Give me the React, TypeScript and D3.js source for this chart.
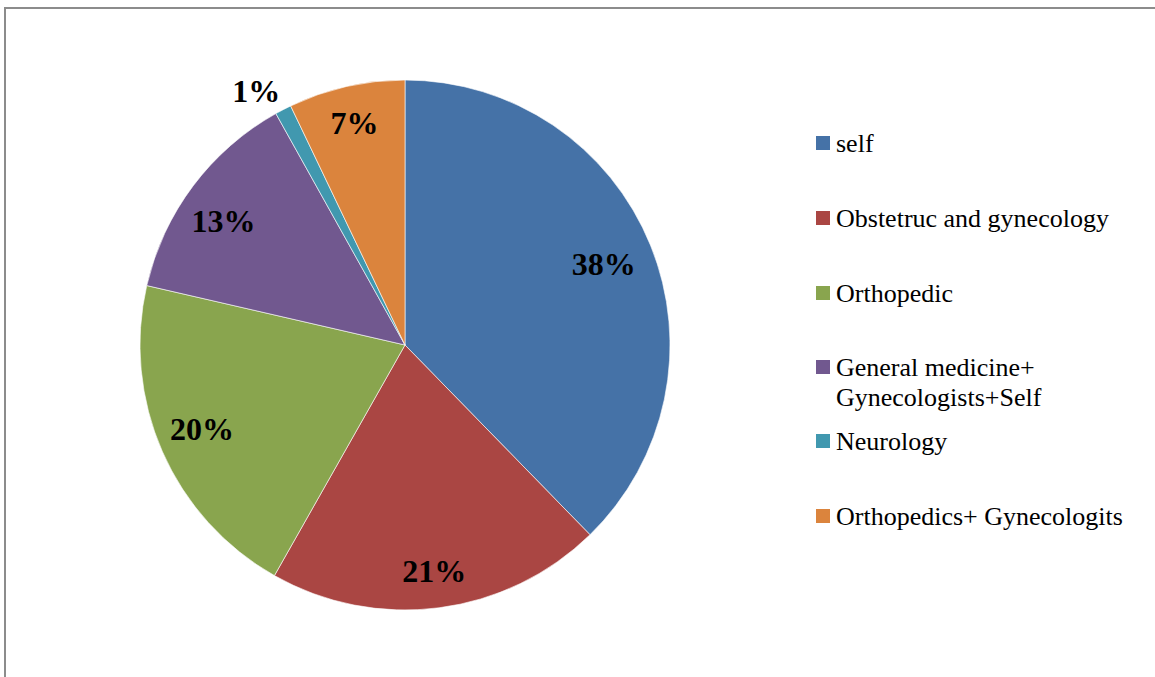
import React from "react";
import * as d3 from "d3";

const categories = [
  "self",
  "Obstetruc and gynecology",
  "Orthopedic",
  "General medicine+ Gynecologists+Self",
  "Neurology",
  "Orthopedics+ Gynecologits",
];
const values = [37.7, 20.5, 20.4, 13.3, 1.0, 7.1];
const labels = ["38%", "21%", "20%", "13%", "1%", "7%"];
const legendLines = [
  ["self"],
  ["Obstetruc and gynecology"],
  ["Orthopedic"],
  ["General medicine+", "Gynecologists+Self"],
  ["Neurology"],
  ["Orthopedics+ Gynecologits"],
];
const colors = ["#4572A7", "#AA4643", "#89A54E", "#71588F", "#4198AF", "#DB843D"];
const legendY = [143, 218, 293, 367, 441, 516];
const labelR = [0.81, 0.86, 0.83, 0.83, 1.11, 0.86];
const labelAngleShift = [0, 0, 1.2, -2.5, -3, 0];

const SERIF = "Liberation Serif, Times New Roman, Times, serif";

export default function App() {
  const W = 1155, H = 677;
  const cx = 405, cy = 345, r = 265;
  const pie = d3.pie<number>().sort(null).value((d) => d);
  const arcs = pie(values);
  const arc = d3.arc<d3.PieArcDatum<number>>().innerRadius(0).outerRadius(r);
  return (
    <svg width={W} height={H} style={{ position: "absolute", left: 0, top: 0 }}>
      <rect x={0} y={0} width={W} height={H} fill="#fff" />
      <line x1={4} y1={8} x2={W} y2={8} stroke="#8c8c8c" strokeWidth={2} />
      <line x1={5} y1={7} x2={5} y2={H} stroke="#8c8c8c" strokeWidth={2} />
      <g transform={`translate(${cx},${cy})`}>
        {arcs.map((a, i) => (
          <path key={i} d={arc(a) || ""} fill={colors[i]} stroke="#fff" strokeWidth={0.6} />
        ))}
        {arcs.map((a, i) => {
          const mid = (a.startAngle + a.endAngle) / 2 + (labelAngleShift[i] * Math.PI) / 180;
          const rr = r * labelR[i];
          const x = Math.sin(mid) * rr;
          const y = -Math.cos(mid) * rr;
          return (
            <text
              key={i}
              x={x}
              y={y}
              textAnchor="middle"
              dominantBaseline="central"
              style={{ fontFamily: SERIF, fontWeight: 700, fontSize: 32 }}
              fill="#000"
            >
              {labels[i]}
            </text>
          );
        })}
      </g>
      {categories.map((c, i) => (
        <g key={c}>
          <rect x={816} y={legendY[i] - 7} width={14} height={14} fill={colors[i]} />
          {legendLines[i].map((ln, j) => (
            <text
              key={j}
              x={836}
              y={legendY[i] + j * 30}
              dominantBaseline="central"
              style={{ fontFamily: SERIF, fontSize: 26 }}
              fill="#000"
            >
              {ln}
            </text>
          ))}
        </g>
      ))}
    </svg>
  );
}
